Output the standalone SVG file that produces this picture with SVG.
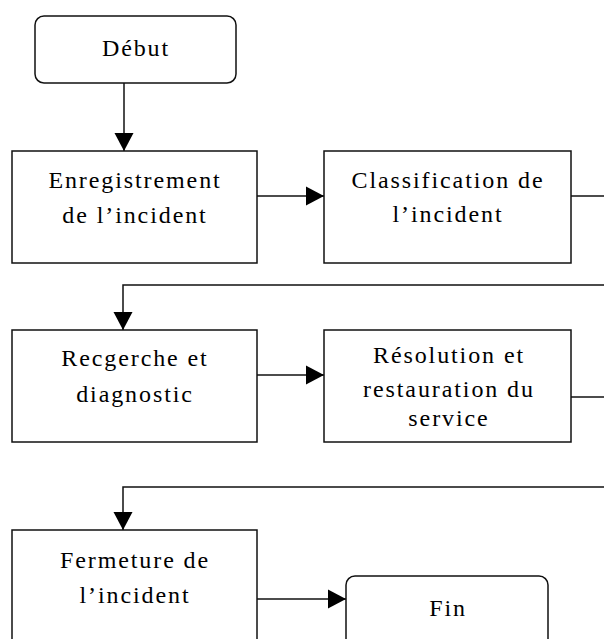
<svg xmlns="http://www.w3.org/2000/svg" width="604" height="639" viewBox="0 0 604 639">
<defs>
<marker id="arr" markerUnits="userSpaceOnUse" markerWidth="18" markerHeight="20" refX="18" refY="10" orient="auto">
<path d="M0,0.5 L18,10 L0,19.5 z" fill="#000"/>
</marker>
<style>
.box{fill:#fff;stroke:#111;stroke-width:1.5}
.ln{fill:none;stroke:#111;stroke-width:1.5}
.t{font-family:'Liberation Serif',Tinos,'Noto Serif','DejaVu Serif',FreeSerif,'Nimbus Roman',Times,serif;font-size:24px;letter-spacing:1.9px;fill:#000;text-anchor:middle}
</style>
</defs>
<rect width="604" height="639" fill="#fff"/>
<g id="connectors">
<line class="ln" x1="124" y1="83" x2="124" y2="151" marker-end="url(#arr)"/>
<line class="ln" x1="257" y1="196" x2="324" y2="196" marker-end="url(#arr)"/>
<line class="ln" x1="571" y1="196" x2="604" y2="196"/>
<polyline class="ln" points="604,285 123,285 123,330" marker-end="url(#arr)"/>
<line class="ln" x1="257" y1="375" x2="324" y2="375" marker-end="url(#arr)"/>
<line class="ln" x1="571" y1="397" x2="604" y2="397"/>
<polyline class="ln" points="604,487 123,487 123,530" marker-end="url(#arr)"/>
<line class="ln" x1="257" y1="599" x2="346" y2="599" marker-end="url(#arr)"/>
</g>
<g id="debut">
<rect class="box" x="35" y="16" width="201" height="67" rx="9"/>
<text class="t" x="136" y="56">Début</text>
</g>
<g id="enregistrement">
<rect class="box" x="12" y="151" width="245" height="112"/>
<text class="t" x="135" y="188">Enregistrement</text>
<text class="t" x="135" y="223">de l’incident</text>
</g>
<g id="classification">
<rect class="box" x="324" y="151" width="247" height="112"/>
<text class="t" x="448" y="188">Classification de</text>
<text class="t" x="448" y="222">l’incident</text>
</g>
<g id="recherche">
<rect class="box" x="12" y="330" width="245" height="112"/>
<text class="t" x="135" y="366">Recgerche et</text>
<text class="t" x="135" y="402">diagnostic</text>
</g>
<g id="resolution">
<rect class="box" x="324" y="330" width="247" height="112"/>
<text class="t" x="449" y="363">Résolution et</text>
<text class="t" x="449" y="397">restauration du</text>
<text class="t" x="449" y="426">service</text>
</g>
<g id="fermeture">
<rect class="box" x="12" y="530" width="245" height="120"/>
<text class="t" x="135" y="568">Fermeture de</text>
<text class="t" x="135" y="603">l’incident</text>
</g>
<g id="fin">
<rect class="box" x="346" y="576" width="202" height="80" rx="9"/>
<text class="t" x="448" y="616">Fin</text>
</g>
</svg>
